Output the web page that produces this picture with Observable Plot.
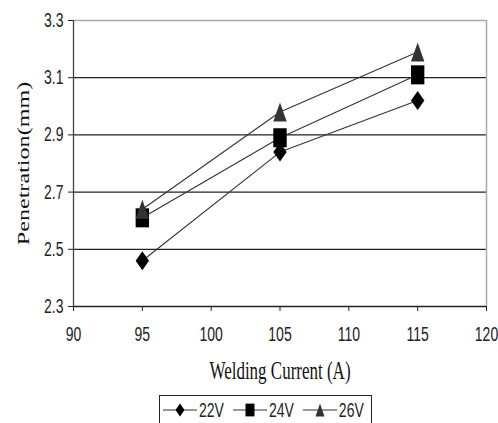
<!DOCTYPE html>
<html><head><meta charset="utf-8">
<script src="https://cdn.jsdelivr.net/npm/d3@7"></script>
<script src="https://cdn.jsdelivr.net/npm/@observablehq/plot@0.6"></script>
<style>
body{margin:0;background:#fff;overflow:hidden;}
#chart svg{display:block;}
#legend{margin-left:159px;margin-top:3px;width:213px;height:30px;border:1px solid #222;box-sizing:border-box;display:flex;align-items:center;padding-left:3px;font-family:"Liberation Sans",Arial,sans-serif;font-size:14px;color:#222;}
#legend .it{display:flex;align-items:center;margin-right:9px;}
#legend .it span{display:inline-block;transform:scaleY(1.42);margin-left:2px;}
</style></head><body>
<div id="chart"></div>
<div id="legend"></div>
<script>
const currents = [95, 105, 115];
const v22 = [2.46, 2.84, 3.02];
const v24 = [2.61, 2.89, 3.11];
const v26 = [2.64, 2.98, 3.19];
const seriesNames = ["22V", "24V", "26V"];
const xTicks = [90, 95, 100, 105, 110, 115, 120];
const yTicks = [2.3, 2.5, 2.7, 2.9, 3.1, 3.3];
const gridValues = [2.5, 2.7, 2.9, 3.1];
const xTitle = "Welding Current (A)";
const yTitle = "Penetration(mm)";

const SY = 1.42;
function makeSym(kind) {
  return {draw(ctx, size) {
    const r = Math.sqrt(size / Math.PI), h = r * SY;
    if (kind === "diamond") { ctx.moveTo(0, -h); ctx.lineTo(r, 0); ctx.lineTo(0, h); ctx.lineTo(-r, 0); ctx.closePath(); }
    else if (kind === "square") { ctx.moveTo(-r, -h); ctx.lineTo(r, -h); ctx.lineTo(r, h); ctx.lineTo(-r, h); ctx.closePath(); }
    else { ctx.moveTo(0, -h); ctx.lineTo(r, h); ctx.lineTo(-r, h); ctx.closePath(); }
  }};
}
const symbols = [makeSym("diamond"), makeSym("square"), makeSym("triangle")];
const fills = ["#000", "#000", "#333"];
const valueSets = [v22, v24, v26];
const rows = valueSets.map((vals, k) => currents.map((c, i) => ({current: c, pen: vals[i], series: seriesNames[k]})));

const serif = "'Liberation Serif', 'Times New Roman', serif";
const chart = Plot.plot({
  width: 498, height: 392,
  marginLeft: 73, marginRight: 12, marginTop: 20, marginBottom: 86,
  x: {domain: [90, 120]},
  y: {domain: [2.3, 3.3]},
  style: {fontFamily: "'Liberation Sans', Arial, sans-serif", fontSize: "14px", color: "#222", background: "#fff"},
  marks: [
    Plot.ruleY(gridValues, {stroke: "#222", strokeWidth: 1.3}),
    Plot.ruleY([3.3], {stroke: "#aaa", strokeWidth: 1.5}),
    Plot.ruleX([120], {stroke: "#aaa", strokeWidth: 1.5}),
    Plot.ruleX([90], {stroke: "#444", strokeWidth: 1.3}),
    Plot.ruleY([2.3], {stroke: "#222", strokeWidth: 1.3}),
    Plot.axisY({ticks: yTicks, tickFormat: d => d.toFixed(1), tickSize: 5, tickPadding: 5, label: null}),
    Plot.axisX({ticks: xTicks, tickSize: 5, tickPadding: 17, label: null}),
    ...rows.map(r => Plot.line(r, {x: "current", y: "pen", stroke: "#333", strokeWidth: 1.1})),
    ...rows.map((r, k) => Plot.dot(r, {x: "current", y: "pen", symbol: symbols[k], r: 6.7, fill: fills[k], stroke: "none"})),
    Plot.text([xTitle], {text: d => d, frameAnchor: "bottom", dy: 65, textAnchor: "middle", lineAnchor: "middle", fontFamily: serif, fontSize: 17, fill: "#111"}),
    Plot.text([yTitle], {text: d => d, frameAnchor: "left", dx: -50, rotate: -90, textAnchor: "middle", lineAnchor: "middle", fontFamily: serif, fontSize: 17, fill: "#111"})
  ]
});

document.getElementById("chart").append(chart);
// stretch every text vertically about its own centre (the reference is vertically stretched)
const svgNS = "http://www.w3.org/2000/svg";
Array.from(chart.querySelectorAll("text")).forEach(t => {
  const parent = t.parentNode;
  const r = t.getBoundingClientRect();
  const pt = chart.createSVGPoint();
  pt.x = r.x + r.width / 2; pt.y = r.y + r.height / 2;
  const p = pt.matrixTransform(parent.getScreenCTM().inverse());
  const g = document.createElementNS(svgNS, "g");
  g.setAttribute("transform", `translate(${p.x},${p.y}) scale(1,${SY}) translate(${-p.x},${-p.y})`);
  parent.insertBefore(g, t);
  g.appendChild(t);
});

// legend
const legend = document.getElementById("legend");
seriesNames.forEach((name, k) => {
  const it = document.createElement("div");
  it.className = "it";
  const sw = d3.create("svg").attr("width", 34).attr("height", 20);
  sw.append("line").attr("x1", 0).attr("x2", 34).attr("y1", 10).attr("y2", 10).attr("stroke", "#333").attr("stroke-width", 1.1);
  const p = d3.path();
  symbols[k].draw(p, Math.PI * 4.5 * 4.5);
  sw.append("path").attr("d", p.toString()).attr("transform", "translate(17,10)").attr("fill", fills[k]);
  it.append(sw.node());
  const s = document.createElement("span");
  s.textContent = name;
  it.append(s);
  legend.append(it);
});
</script>
</body></html>
